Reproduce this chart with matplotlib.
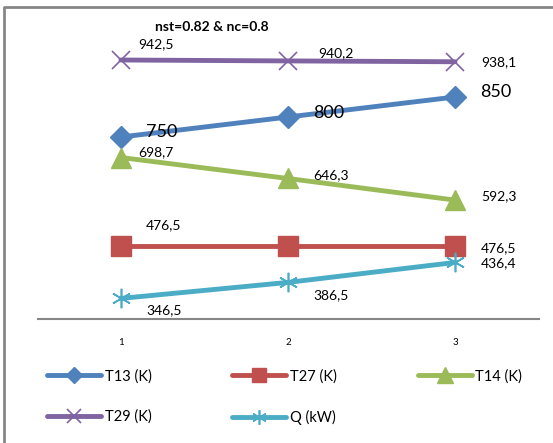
import matplotlib
matplotlib.use("Agg")
import matplotlib.pyplot as plt
from matplotlib.lines import Line2D

plt.rcParams["font.family"] = ["Lato", "DejaVu Sans"]

# ---- data ----
cases = [1, 2, 3]
t13 = [750, 800, 850]
t27 = [476.5, 476.5, 476.5]
t14 = [698.7, 646.3, 592.3]
t29 = [942.5, 940.2, 938.1]
q_kw = [346.5, 386.5, 436.4]

t13_labels = ["750", "800", "850"]
t27_labels = ["476,5", "", "476,5"]
t14_labels = ["698,7", "646,3", "592,3"]
t29_labels = ["942,5", "940,2", "938,1"]
q_labels = ["346,5", "386,5", "436,4"]

title = "nst=0.82 & nc=0.8"

W, H = 553, 443
fig = plt.figure(figsize=(W / 100, H / 100), dpi=100)
ax = fig.add_axes([37.5 / W, 1 - 319 / H, 501 / W, 282 / H])

# outer chart frame (left + top visible)
fig.add_artist(Line2D([4 / W, 4 / W, 1.0], [0.0, 1 - 7 / H, 1 - 7 / H],
                      transform=fig.transFigure, color="#868686", lw=2))

series = [
    ("T13 (K)", t13, "#4F81BD", "D", 11, 3.5, t13_labels),
    ("T27 (K)", t27, "#C0504D", "s", 14, 3.5, t27_labels),
    ("T14 (K)", t14, "#9BBB59", "^", 15, 3.5, t14_labels),
    ("T29 (K)", t29, "#8064A2", "x", 13, 3.5, t29_labels),
    ("Q (kW)", q_kw, "#4BACC6", (6, 2, 0), 14, 3.5, q_labels),
]

handles = {}
for name, vals, color, marker, ms, lw, _ in series:
    thin = marker == "x" or isinstance(marker, tuple)
    h, = ax.plot(cases, vals, color=color, lw=lw, marker=marker, ms=ms,
                 mec=color, mfc=color, mew=1.2 if thin else 1, label=name,
                 solid_capstyle="round")
    handles[name] = h

# label offsets in pixels (dx from marker, dy upward)
offsets = {
    "T13 (K)": [(25, 5), (25, 4), (25, 5)],
    "T27 (K)": [(25, 21), (25, 21), (26, -2)],
    "T14 (K)": [(17, 5), (25, 3), (26, 4)],
    "T29 (K)": [(17, 16), (30, 8), (26, 0)],
    "Q (kW)": [(25, -12), (25, -13), (26, -1)],
}
for name, vals, color, marker, ms, lw, labels in series:
    size = 13 if name == "T13 (K)" else 10
    for x, y, lab, off in zip(cases, vals, labels, offsets[name]):
        if not lab:
            continue
        ax.annotate(lab, (x, y), xytext=off, textcoords="offset pixels",
                    ha="left", va="center", fontsize=size, color="black")

ax.set_xlim(0.5, 3.5)
ax.set_ylim(295, 1000)
ax.set_xticks(cases)
ax.set_xticklabels([str(c) for c in cases], fontsize=7)
ax.tick_params(axis="x", length=0, pad=14)
ax.set_yticks([])
for s in ("top", "right", "left"):
    ax.spines[s].set_visible(False)
ax.spines["bottom"].set_color("#868686")
ax.spines["bottom"].set_linewidth(1.5)
ax.patch.set_visible(False)

fig.text(212 / W, 1 - 27 / H, title, ha="center", va="center",
         fontsize=10, fontweight="bold")

order = ["T13 (K)", "T29 (K)", "T27 (K)", "Q (kW)", "T14 (K)"]
leg = fig.legend([handles[n] for n in order], order, ncol=3,
                 loc="upper left", bbox_to_anchor=(47 / W, 1 - 369 / H),
                 frameon=False, fontsize=10.5, handlelength=3.7,
                 handletextpad=0.25, columnspacing=5.55, labelspacing=1.8,
                 markerscale=0.75, borderaxespad=0, borderpad=0)

fig.savefig("out.png", dpi=100)
